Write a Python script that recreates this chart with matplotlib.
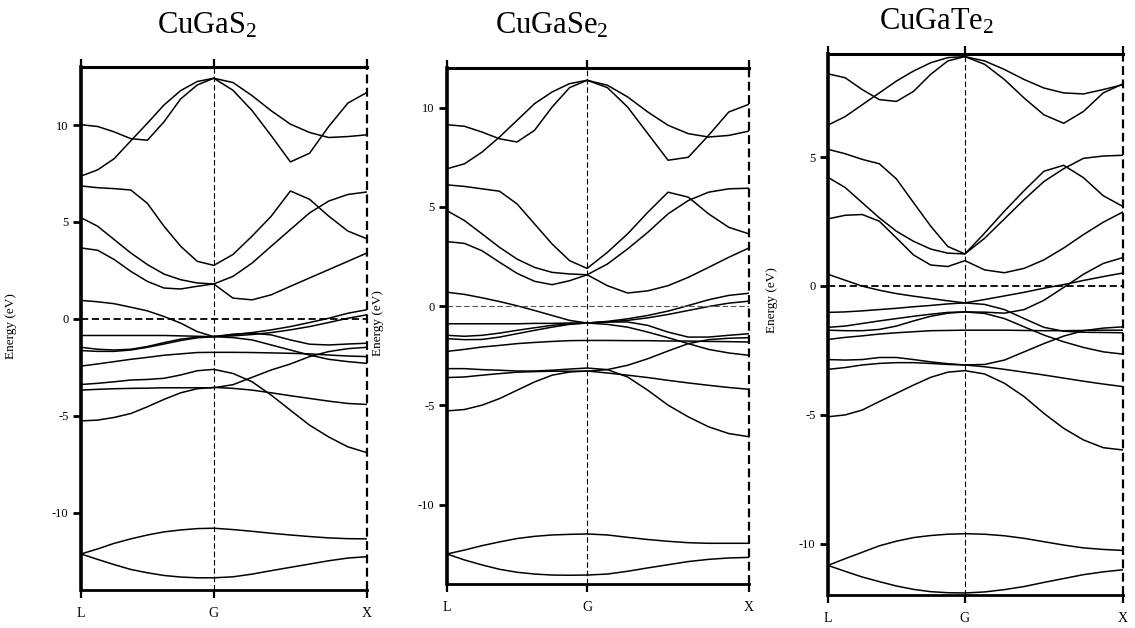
import numpy as np
import matplotlib
matplotlib.use('Agg')
import matplotlib.pyplot as plt

plt.rcParams['font.family'] = ['Liberation Serif', 'DejaVu Serif']
plt.rcParams['mathtext.fontset'] = 'custom'
plt.rcParams['mathtext.rm'] = 'Liberation Serif'
plt.rcParams['mathtext.it'] = 'Liberation Serif:italic'

# k-path L -> G -> X, 9 samples per segment (G shared), |LG| = sqrt(3)/2 |GX|
k_labels = ['L', 'G', 'X']
seg_lengths = [np.sqrt(3) / 2, 1.0]
n_per_seg = 9

titles = ['CuGaS$_2$', 'CuGaSe$_2$', 'CuGaTe$_2$']

# ---- CuGaS2 bands (eV), 17 samples along L-G-X ----
cugas2_bands = [
    [7.37, 7.69, 8.27, 9.19, 10.10, 11.04, 11.78, 12.25, 12.42, 11.80, 10.75, 9.45, 8.10, 8.55, 9.93, 11.14, 11.69],
    [10.02, 9.93, 9.65, 9.30, 9.22, 10.17, 11.35, 12.07, 12.42, 12.20, 11.52, 10.74, 10.05, 9.62, 9.36, 9.41, 9.50],
    [6.86, 6.77, 6.72, 6.65, 5.96, 4.78, 3.75, 2.97, 2.76, 3.32, 4.27, 5.30, 6.60, 6.17, 5.30, 4.53, 4.13],
    [5.22, 4.78, 4.09, 3.40, 2.80, 2.31, 2.02, 1.85, 1.80, 2.19, 2.88, 3.75, 4.61, 5.47, 6.08, 6.42, 6.55],
    [3.66, 3.54, 3.06, 2.45, 1.93, 1.59, 1.54, 1.68, 1.80, 1.07, 0.98, 1.24, 1.68, 2.11, 2.54, 2.97, 3.40],
    [0.95, 0.88, 0.78, 0.60, 0.41, 0.12, -0.22, -0.66, -0.92, -0.97, -1.09, -1.35, -1.61, -1.87, -2.09, -2.21, -2.30],
    [-0.86, -0.86, -0.86, -0.86, -0.86, -0.86, -0.88, -0.90, -0.92, -0.83, -0.71, -0.57, -0.40, -0.19, 0.03, 0.29, 0.47],
    [-1.47, -1.57, -1.61, -1.57, -1.43, -1.23, -1.05, -0.95, -0.92, -0.88, -0.81, -0.71, -0.57, -0.40, -0.19, 0.03, 0.21],
    [-1.64, -1.68, -1.68, -1.61, -1.47, -1.30, -1.12, -0.98, -0.92, -0.79, -0.74, -0.83, -1.09, -1.31, -1.35, -1.30, -1.26],
    [-2.44, -2.33, -2.21, -2.09, -1.99, -1.88, -1.81, -1.74, -1.73, -1.73, -1.74, -1.76, -1.78, -1.81, -1.87, -1.92, -1.95],
    [-3.68, -3.64, -3.61, -3.59, -3.58, -3.56, -3.56, -3.56, -3.56, -3.40, -3.02, -2.64, -2.33, -1.95, -1.69, -1.54, -1.47],
    [-3.39, -3.33, -3.25, -3.16, -3.13, -3.07, -2.90, -2.68, -2.61, -2.82, -3.25, -3.94, -4.72, -5.49, -6.10, -6.61, -6.91],
    [-5.27, -5.23, -5.09, -4.89, -4.54, -4.16, -3.82, -3.61, -3.54, -3.59, -3.68, -3.82, -3.97, -4.11, -4.25, -4.37, -4.42],
    [-12.14, -11.88, -11.59, -11.36, -11.16, -11.00, -10.90, -10.83, -10.81, -10.88, -10.97, -11.07, -11.16, -11.24, -11.31, -11.35, -11.36],
    [-12.14, -12.42, -12.69, -12.94, -13.11, -13.25, -13.33, -13.37, -13.37, -13.32, -13.18, -13.00, -12.83, -12.66, -12.49, -12.35, -12.28],
]

# ---- CuGaSe2 bands (eV) ----
cugase2_bands = [
    [6.92, 7.17, 7.76, 8.52, 9.36, 10.20, 10.79, 11.21, 11.38, 11.01, 10.03, 8.69, 7.35, 7.50, 8.60, 9.78, 10.17],
    [9.14, 9.06, 8.77, 8.43, 8.27, 8.86, 10.03, 11.01, 11.38, 11.13, 10.54, 9.78, 9.11, 8.69, 8.52, 8.60, 8.82],
    [6.11, 6.03, 5.91, 5.79, 5.15, 4.14, 3.13, 2.29, 1.90, 2.71, 3.64, 4.73, 5.74, 5.49, 4.65, 3.97, 3.64],
    [4.81, 4.31, 3.64, 2.96, 2.37, 1.95, 1.70, 1.62, 1.58, 2.12, 2.88, 3.72, 4.65, 5.32, 5.74, 5.91, 5.94],
    [3.25, 3.16, 2.79, 2.21, 1.65, 1.25, 1.08, 1.28, 1.58, 1.03, 0.66, 0.77, 1.03, 1.45, 1.95, 2.46, 2.93],
    [0.70, 0.59, 0.42, 0.23, 0.02, -0.22, -0.47, -0.72, -0.85, -0.92, -1.06, -1.31, -1.59, -1.89, -2.18, -2.36, -2.48],
    [-0.89, -0.89, -0.89, -0.89, -0.89, -0.87, -0.87, -0.85, -0.85, -0.77, -0.64, -0.47, -0.25, 0.03, 0.32, 0.54, 0.65],
    [-1.47, -1.52, -1.47, -1.36, -1.22, -1.09, -0.97, -0.89, -0.85, -0.80, -0.72, -0.59, -0.42, -0.22, -0.02, 0.15, 0.25],
    [-1.64, -1.69, -1.68, -1.56, -1.39, -1.22, -1.06, -0.92, -0.85, -0.80, -0.80, -0.97, -1.31, -1.56, -1.56, -1.47, -1.39],
    [-2.28, -2.18, -2.06, -1.98, -1.89, -1.83, -1.78, -1.74, -1.73, -1.73, -1.74, -1.74, -1.76, -1.76, -1.78, -1.79, -1.81],
    [-3.60, -3.57, -3.48, -3.40, -3.33, -3.30, -3.28, -3.28, -3.28, -3.20, -2.98, -2.65, -2.26, -1.89, -1.69, -1.62, -1.59],
    [-3.15, -3.15, -3.20, -3.23, -3.27, -3.27, -3.23, -3.17, -3.12, -3.20, -3.57, -4.24, -4.99, -5.58, -6.08, -6.42, -6.58],
    [-5.28, -5.21, -4.99, -4.66, -4.24, -3.82, -3.48, -3.32, -3.27, -3.37, -3.48, -3.60, -3.74, -3.87, -3.99, -4.10, -4.19],
    [-12.49, -12.29, -12.07, -11.88, -11.71, -11.60, -11.53, -11.50, -11.48, -11.53, -11.65, -11.76, -11.85, -11.92, -11.95, -11.95, -11.95],
    [-12.49, -12.79, -13.04, -13.26, -13.41, -13.50, -13.55, -13.56, -13.55, -13.50, -13.36, -13.19, -13.03, -12.87, -12.76, -12.69, -12.66],
]

# ---- CuGaTe2 bands (eV) ----
cugate2_bands = [
    [6.24, 6.57, 7.03, 7.49, 7.95, 8.34, 8.66, 8.86, 8.90, 8.60, 8.01, 7.29, 6.64, 6.31, 6.77, 7.49, 7.84],
    [8.23, 8.08, 7.62, 7.23, 7.16, 7.55, 8.21, 8.73, 8.90, 8.73, 8.40, 8.01, 7.68, 7.49, 7.45, 7.62, 7.81],
    [5.30, 5.13, 4.91, 4.74, 4.15, 3.23, 2.32, 1.53, 1.24, 2.05, 2.90, 3.70, 4.45, 4.68, 4.20, 3.50, 3.08],
    [4.21, 3.82, 3.23, 2.64, 2.12, 1.73, 1.43, 1.27, 1.24, 1.85, 2.60, 3.35, 4.05, 4.55, 4.95, 5.04, 5.07],
    [2.60, 2.74, 2.77, 2.51, 1.86, 1.20, 0.81, 0.75, 0.98, 0.62, 0.51, 0.68, 1.01, 1.47, 1.99, 2.47, 2.87],
    [0.45, 0.22, -0.01, -0.17, -0.30, -0.40, -0.49, -0.58, -0.66, -0.53, -0.39, -0.25, -0.09, 0.05, 0.21, 0.36, 0.50],
    [-1.03, -1.01, -0.97, -0.92, -0.87, -0.81, -0.76, -0.70, -0.66, -0.72, -0.92, -1.27, -1.61, -1.76, -1.80, -1.81, -1.82],
    [-1.61, -1.56, -1.46, -1.36, -1.27, -1.18, -1.10, -1.03, -1.01, -1.02, -1.06, -0.92, -0.56, -0.06, 0.45, 0.87, 1.10],
    [-1.72, -1.74, -1.74, -1.69, -1.56, -1.36, -1.18, -1.06, -1.01, -1.07, -1.27, -1.59, -1.91, -2.17, -2.39, -2.56, -2.65],
    [-2.08, -2.00, -1.94, -1.87, -1.82, -1.78, -1.74, -1.73, -1.72, -1.72, -1.72, -1.73, -1.74, -1.74, -1.73, -1.72, -1.72],
    [-2.86, -2.88, -2.86, -2.78, -2.78, -2.86, -2.95, -3.02, -3.07, -3.14, -3.24, -3.35, -3.46, -3.58, -3.70, -3.81, -3.91],
    [-3.24, -3.17, -3.07, -3.01, -2.98, -2.98, -3.01, -3.05, -3.07, -3.05, -2.88, -2.56, -2.24, -1.95, -1.74, -1.64, -1.59],
    [-5.08, -5.01, -4.82, -4.49, -4.17, -3.85, -3.55, -3.35, -3.29, -3.42, -3.78, -4.30, -4.95, -5.53, -5.98, -6.28, -6.37],
    [-10.85, -10.59, -10.34, -10.09, -9.91, -9.77, -9.69, -9.64, -9.62, -9.64, -9.70, -9.80, -9.93, -10.06, -10.17, -10.23, -10.27],
    [-10.85, -11.08, -11.30, -11.48, -11.65, -11.78, -11.87, -11.91, -11.92, -11.88, -11.79, -11.67, -11.51, -11.36, -11.21, -11.10, -11.02],
]

y_limits = [(-14, 13), (-14, 12), (-12, 9)]
y_ticks = [[-10, -5, 0, 5, 10], [-10, -5, 0, 5, 10], [-10, -5, 0, 5]]


def k_path():
    """Sample positions along L-G-X and the high-symmetry tick positions."""
    lg, gx = seg_lengths
    k = np.concatenate([np.linspace(0, lg, n_per_seg),
                        lg + np.linspace(0, gx, n_per_seg)[1:]])
    return k, [0, lg, lg + gx]


def draw_panel(ax, bands, ylim, yticks, zero_style):
    k, kt = k_path()
    for band in bands:
        ax.plot(k, band, color='black', lw=1.1, solid_joinstyle='round')
    ax.axvline(kt[1], color='black', ls=(0, (5, 2.5)), lw=0.8)
    ax.axvline(kt[2], color='black', ls=(0, (4, 2)), lw=1.6, clip_on=False)
    ax.axhline(0, **zero_style)
    ax.set_xlim(kt[0], kt[2])
    ax.set_ylim(*ylim)
    ax.set_xticks(kt)
    ax.set_xticklabels(k_labels)
    ax.set_yticks(yticks)
    ax.set_yticklabels([str(t) for t in yticks])
    ax.spines['right'].set_visible(False)
    ax.spines['left'].set_linewidth(2.6)
    ax.spines['top'].set_linewidth(2.2)
    ax.spines['bottom'].set_linewidth(2.0)
    ax.tick_params(axis='x', direction='out', top=True, bottom=True,
                   length=6, width=1.6, labelsize=10, pad=6)
    ax.tick_params(axis='y', direction='out', left=True, right=False,
                   length=6, width=2.0, labelsize=9, pad=3)


fig = plt.figure(figsize=(11.35, 6.28), dpi=100)

rects = [[0.0714, 0.0605, 0.2520, 0.8328],
         [0.3938, 0.0701, 0.2661, 0.8217],
         [0.7295, 0.0525, 0.2599, 0.8615]]
zero_styles = [dict(color='black', ls=(0, (4, 2)), lw=1.3),
               dict(color='#555555', ls=(0, (5, 2.5)), lw=0.8),
               dict(color='black', ls=(0, (4, 2)), lw=1.3)]
label_x = [-0.224, -0.21, -0.17]
label_y = [0.505, 0.506, 0.545]
title_pos = [(207, 33), (552, 33), (937, 30)]

all_bands = [cugas2_bands, cugase2_bands, cugate2_bands]
for i in range(3):
    ax = fig.add_axes(rects[i])
    draw_panel(ax, all_bands[i], y_limits[i], y_ticks[i], zero_styles[i])
    ax.set_ylabel('Energy (eV)', fontsize=9.5)
    ax.yaxis.set_label_coords(label_x[i], label_y[i])
    tx, ty = title_pos[i]
    fig.text(tx / 1135, 1 - ty / 628, titles[i], fontsize=22,
             ha='center', va='baseline')

fig.savefig('out.png', dpi=100)
